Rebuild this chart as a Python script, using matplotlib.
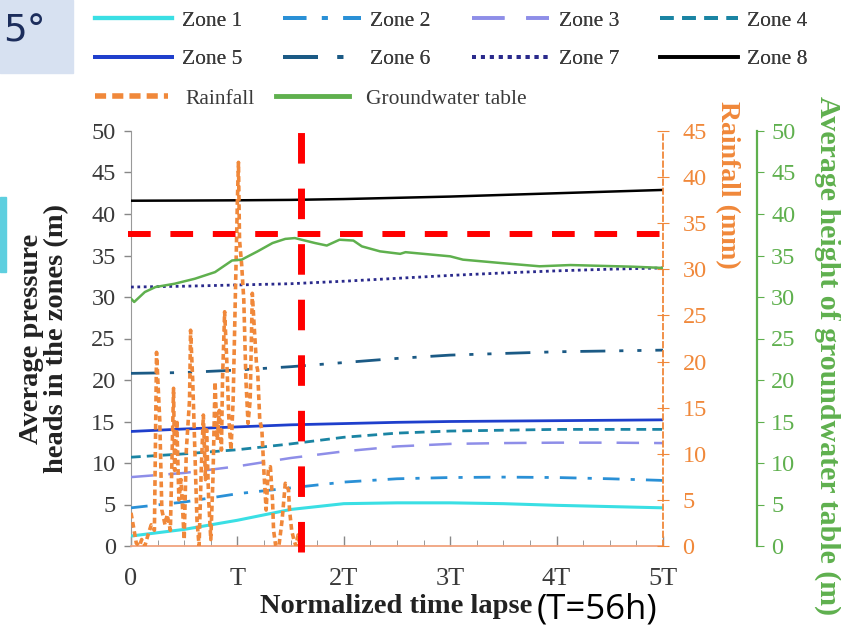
import matplotlib
matplotlib.use("Agg")
import matplotlib.pyplot as plt
from matplotlib.lines import Line2D
from matplotlib.patches import Rectangle
from matplotlib.ticker import MultipleLocator

# --------------------------------------------------
# Data (time in units of T, T = 56 h)
# --------------------------------------------------
zone_t = [0, 0.5, 1.0, 1.5, 2.0, 2.5, 3.0, 3.5, 4.0, 4.5, 5.0]

zone1 = [1.2, 2.0, 3.1, 4.4, 5.1, 5.2, 5.2, 5.1, 4.9, 4.75, 4.6]
zone2 = [4.6, 5.3, 6.3, 7.0, 7.7, 8.1, 8.25, 8.3, 8.25, 8.1, 7.9]
zone3 = [8.3, 8.8, 9.6, 10.6, 11.4, 12.0, 12.3, 12.4, 12.45, 12.45, 12.4]
zone4 = [10.7, 11.1, 11.6, 12.3, 13.1, 13.6, 13.85, 13.95, 14.05, 14.05, 14.05]
zone5 = [13.8, 14.1, 14.35, 14.6, 14.75, 14.9, 15.0, 15.05, 15.1, 15.15, 15.2]
zone6 = [20.8, 20.9, 21.2, 21.6, 22.1, 22.6, 23.0, 23.2, 23.4, 23.5, 23.6]
zone7 = [31.2, 31.3, 31.45, 31.6, 31.9, 32.25, 32.6, 32.9, 33.15, 33.35, 33.5]
zone8 = [41.6, 41.62, 41.65, 41.7, 41.8, 41.95, 42.1, 42.3, 42.5, 42.7, 42.9]

gw_t = [0.0, 0.03, 0.13, 0.23, 0.41, 0.60, 0.79, 0.95, 1.04, 1.19, 1.33, 1.45,
        1.54, 1.73, 1.84, 1.96, 2.09, 2.17, 2.34, 2.53, 2.58, 3.0, 3.12,
        3.47, 3.84, 4.13, 4.72, 5.0]
gw_level = [29.8, 29.4, 30.6, 31.2, 31.6, 32.2, 33.0, 34.4, 34.5, 35.5, 36.5,
            37.0, 37.1, 36.5, 36.2, 36.9, 36.8, 36.1, 35.5, 35.2, 35.4, 34.9,
            34.5, 34.1, 33.7, 33.85, 33.65, 33.5]

rain_t = [0.00, 0.02, 0.05, 0.08, 0.10, 0.13, 0.16, 0.19, 0.22, 0.24, 0.27,
          0.29, 0.32, 0.34, 0.37, 0.40, 0.41, 0.43, 0.45, 0.47, 0.50, 0.52,
          0.55, 0.56, 0.58, 0.60, 0.62, 0.64, 0.66, 0.68, 0.70, 0.71, 0.73,
          0.75, 0.77, 0.79, 0.81, 0.83, 0.85, 0.86, 0.88, 0.90, 0.92, 0.94,
          0.96, 0.98, 1.00, 1.01, 1.02, 1.04, 1.06, 1.08, 1.10, 1.12, 1.14,
          1.16, 1.18, 1.19, 1.21, 1.23, 1.25, 1.27, 1.29, 1.31, 1.33, 1.34,
          1.36, 1.39, 1.42, 1.45, 1.48, 1.49, 1.51, 1.53, 1.55, 1.57, 1.59]
rain_mm = [3.6, 2.3, 0.3, 0.0, 0.7, 0.0, 1.2, 2.3, 1.7, 21.0, 13.7,
           3.9, 2.3, 3.4, 1.7, 17.1, 8.2, 13.7, 5.0, 7.2, 0.7, 10.4,
           15.8, 23.4, 18.0, 10.4, 2.8, 0.0, 8.2, 14.2, 7.2, 12.6, 5.0,
           0.7, 7.2, 17.8, 11.5, 14.7, 10.4, 18.0, 25.4, 20.2, 13.7, 10.4,
           15.8, 26.7, 37.5, 41.6, 33.2, 30.5, 26.7, 18.0, 13.3, 15.8, 27.4,
           23.4, 19.6, 19.1, 13.7, 12.6, 7.9, 3.9, 8.2, 8.6, 5.0, 1.7,
           0.0, 0.0, 2.8, 6.8, 6.1, 3.9, 1.7, 0.7, 0.0, 1.2, 0.0]

# overlay reference lines (red)
mark_time = 1.6
mark_head = 37.6

x_tick_labels = ["0", "T", "2T", "3T", "4T", "5T"]

# --------------------------------------------------
# Figure
# --------------------------------------------------
plt.rcParams["font.family"] = ["Liberation Serif", "DejaVu Serif"]

fig = plt.figure(figsize=(8.41, 6.28), dpi=100)
ax = fig.add_axes([131 / 841, 82 / 628, 532 / 841, 415 / 628])

orange = "#f0883a"
green = "#5fb04e"
grey = "#3a3a3a"

zones = [
    (zone1, "Zone 1", "#3adfe4", "-", 2.2),
    (zone2, "Zone 2", "#2a90d6", (0, (6, 4, 1.5, 4)), 2.0),
    (zone3, "Zone 3", "#8e8ee8", (0, (9, 6)), 1.8),
    (zone4, "Zone 4", "#1a84a3", (0, (3.5, 2.2)), 2.0),
    (zone5, "Zone 5", "#1f3fcc", "-", 2.0),
    (zone6, "Zone 6", "#1b5a85", (0, (9, 5, 1.5, 5, 1.5, 5)), 2.0),
    (zone7, "Zone 7", "#2a2a8c", (0, (1, 1.3)), 2.0),
    (zone8, "Zone 8", "black", "-", 1.8),
]

zone_handles = {}
for vals, name, col, ls, lw in zones:
    ax.plot(zone_t, vals, color=col, linestyle=ls, linewidth=lw, zorder=3)
    zone_handles[name] = Line2D([0], [0], color=col, linestyle=ls, lw=lw + 0.8, label=name)

ax.set_xlim(0, 5)
ax.set_ylim(0, 50)
ax.set_xticks(range(6))
ax.set_xticklabels(x_tick_labels)
ax.xaxis.set_minor_locator(MultipleLocator(0.25))
ax.yaxis.set_major_locator(MultipleLocator(5))
ax.tick_params(axis="x", direction="in", length=7, width=1, color="#888888",
               labelsize=19, labelcolor=grey, pad=16)
ax.tick_params(axis="x", which="minor", direction="in", length=4, color="#888888")
ax.tick_params(axis="y", direction="out", length=5, width=1, color="#888888",
               labelsize=17.5, labelcolor=grey, pad=6)
ax.spines["top"].set_visible(False)
ax.spines["right"].set_visible(False)
ax.spines["left"].set_color("#999999")
ax.spines["bottom"].set_color("#f0a27e")
ax.spines["bottom"].set_linewidth(1.3)
ax.patch.set_alpha(0)

ax.set_ylabel("Average pressure\nheads in the zones (m)", fontsize=20.5,
              fontweight="bold", color="#222222", linespacing=1.0)
ax.yaxis.set_label_coords(-0.117, 0.5)
ax.set_xlabel("Normalized time lapse", fontsize=20.5, fontweight="bold",
              color="#222222")
ax.xaxis.set_label_coords(0.499, -0.115)

# rainfall axis
ax_r = ax.twinx()
ax_r.plot(rain_t, rain_mm, color=orange, linestyle=(0, (1.6, 1.0)), linewidth=2.6, zorder=2)
ax_r.set_ylim(0, 45)
ax_r.yaxis.set_major_locator(MultipleLocator(5))
for s in ["top", "left", "bottom"]:
    ax_r.spines[s].set_visible(False)
ax_r.spines["right"].set_color(orange)
ax_r.spines["right"].set_linestyle((0, (3, 2)))
ax_r.spines["right"].set_linewidth(1.3)
ax_r.tick_params(axis="y", direction="inout", length=8, color=orange,
                 labelsize=17.5, labelcolor=orange, pad=10)
ax_r.set_ylabel("Rainfall (mm)", rotation=270, fontsize=20, fontweight="bold",
                color=orange)
ax_r.yaxis.set_label_coords(1.145, 0.87)

# groundwater axis
ax_g = ax.twinx()
ax_g.plot(gw_t, gw_level, color=green, linewidth=1.8, zorder=3)
ax_g.set_ylim(0, 50)
ax_g.yaxis.set_major_locator(MultipleLocator(5))
for s in ["top", "left", "bottom"]:
    ax_g.spines[s].set_visible(False)
ax_g.spines["right"].set_position(("axes", 1.177))
ax_g.spines["right"].set_color(green)
ax_g.spines["right"].set_linewidth(1.6)
ax_g.tick_params(axis="y", direction="out", length=5, color=green,
                 labelsize=17.5, labelcolor=green, pad=5)
ax_g.set_ylabel("Average height of groundwater table (m)", rotation=270,
                fontsize=21.5, fontweight="bold", color=green)
ax_g.yaxis.set_label_coords(1.335, 0.46)

# red overlay lines
ax_g.axhline(mark_head, xmin=-0.005, xmax=1.0, color="red", lw=4.3,
             linestyle=(0, (3.8, 3.3)), clip_on=False, zorder=5)
ax_g.axvline(mark_time, ymin=-0.015, ymax=1.015, color="red", lw=5,
             linestyle=(0, (4.4, 3.6)), clip_on=False, zorder=5)

# legends (row-major order for the zones)
order = ["Zone 1", "Zone 5", "Zone 2", "Zone 6", "Zone 3", "Zone 7", "Zone 4", "Zone 8"]
leg1 = fig.legend(handles=[zone_handles[k] for k in order], ncol=4, loc="upper left",
                  bbox_to_anchor=(84 / 841, 1.0), frameon=False, borderpad=0,
                  fontsize=15.5, handlelength=3.6, handletextpad=0.45,
                  columnspacing=1.9, labelspacing=0.86, labelcolor=grey)
extra_handles = [
    Line2D([0], [0], color=orange, linestyle=(0, (2, 1.1)), lw=4, label="Rainfall"),
    Line2D([0], [0], color=green, lw=3.5, label="Groundwater table"),
]
leg2 = fig.legend(handles=extra_handles, ncol=2, loc="upper left",
                  bbox_to_anchor=(84 / 841, 1 - 78 / 628), frameon=False, borderpad=0,
                  fontsize=15.5, handlelength=3.4, handletextpad=0.8,
                  columnspacing=1.0, labelcolor=grey)
fig.add_artist(leg1)

# slide decorations
fig.add_artist(Rectangle((0, 1 - 73 / 628), 73 / 841, 73 / 628,
                         transform=fig.transFigure, color="#d7e1f1", zorder=0))
fig.text(3 / 841, 1 - 32 / 628, "5°", fontsize=27, family="DejaVu Sans",
         color="#1c2d5c", va="center", ha="left")
fig.add_artist(Rectangle((0, 1 - 272 / 628), 6 / 841, 75 / 628,
                         transform=fig.transFigure, color="#5ecfdf", zorder=0))
fig.text(537 / 841, 1 - 609 / 628, "(T=56h)", fontsize=25, family="Open Sans",
         color="black", va="center", ha="left")

fig.savefig("out.png", dpi=100)
plt.close(fig)
